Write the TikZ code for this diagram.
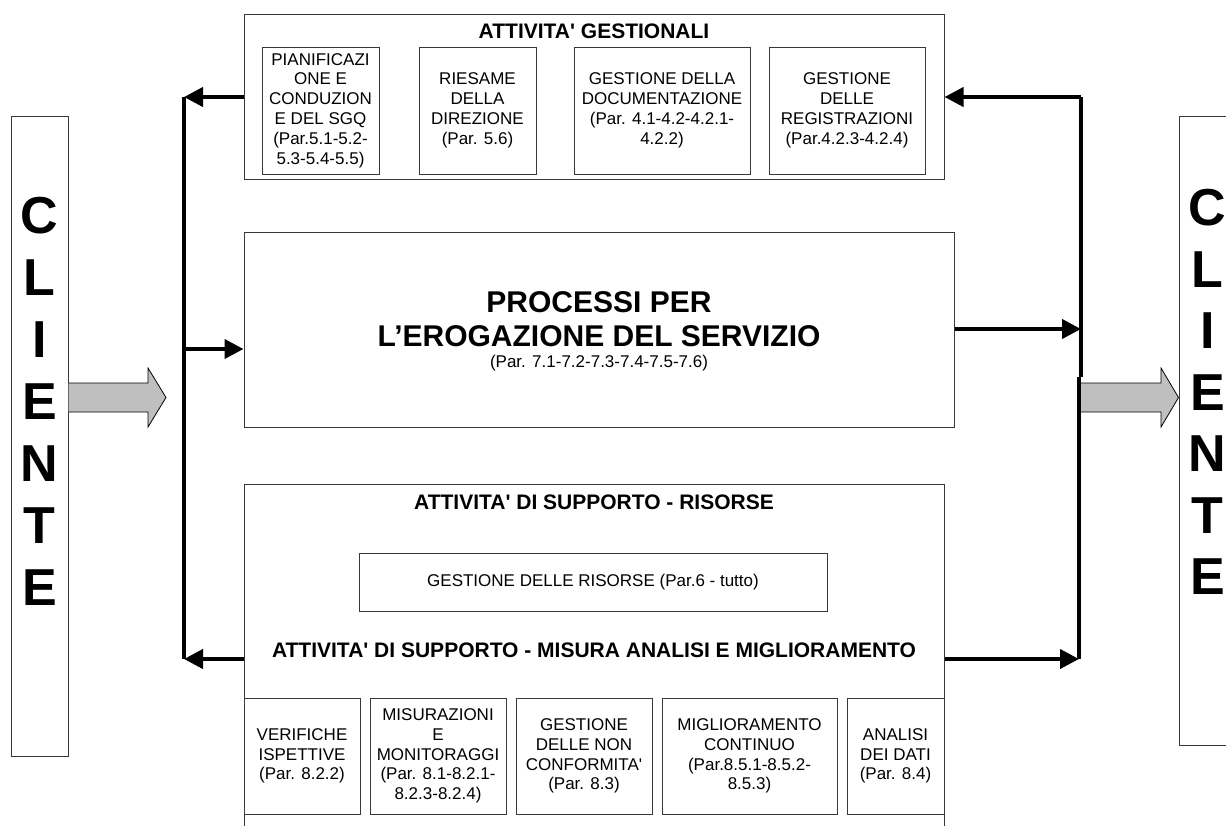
\documentclass[tikz,border=0pt]{standalone}
\usepackage{fontspec}
\newfontfamily\arial{Liberation Sans}
\usetikzlibrary{arrows.meta}
\begin{document}
\begin{tikzpicture}[x=1pt,y=-1pt,
  frame/.style={draw=black!78, line width=1pt, rectangle, inner sep=0pt},
  boxtext/.style={frame, align=center, font=\arial\fontsize{17}{19.8}\selectfont},
  title/.style={inner sep=0pt, font=\arial\bfseries\fontsize{21}{25}\selectfont},
  bigtitle/.style={inner sep=0pt, font=\arial\bfseries\fontsize{30}{36}\selectfont},
  smalltext/.style={inner sep=0pt, font=\arial\fontsize{17}{20}\selectfont},
  letter/.style={inner sep=0pt, font=\arial\bfseries\fontsize{52}{60}\selectfont},
  flow/.style={line width=4pt, black},
  flowarrow/.style={flow, -{Triangle[length=19pt,width=19pt]}},
  blockarrow/.style={draw=black, line width=0.8pt, fill=black!25, line join=miter}
]
\useasboundingbox (0,0) rectangle (1226,825);
\clip (0,0) rectangle (1226,825);

% ---- customer columns ----
\node[frame, minimum width=57pt, minimum height=640pt] (clientL) at (39.5,436) {};
\node[frame, minimum width=57pt, minimum height=629pt] (clientR) at (1207.5,430.5) {};
\foreach \ch [count=\i] in {C,L,I,E,N,T,E} {
  \node[letter] (cl\i) at (39.5,{216+62*(\i-1)}) {\ch};
  \node[letter] (cr\i) at (1207.5,{208+61.5*(\i-1)}) {\ch};
}

% ---- management activities ----
\node[frame, minimum width=700pt, minimum height=165pt] (top) at (594,96.5) {};
\node[title] (topT) at (594,31) {ATTIVITA' GESTIONALI};
\node[boxtext, minimum width=117pt, minimum height=127pt] (tb1) at (320.5,110.5)
  {PIANIFICAZI\\ONE E\\CONDUZION\\E DEL SGQ\\(Par.5.1-5.2-\\5.3-5.4-5.5)};
\node[boxtext, minimum width=117pt, minimum height=127pt] (tb2) at (477.5,110.5)
  {RIESAME\\DELLA\\DIREZIONE\\(Par. 5.6)};
\node[boxtext, minimum width=176pt, minimum height=127pt] (tb3) at (662,110.5)
  {GESTIONE DELLA\\DOCUMENTAZIONE\\(Par. 4.1-4.2-4.2.1-\\4.2.2)};
\node[boxtext, minimum width=156pt, minimum height=127pt] (tb4) at (847,110.5)
  {GESTIONE\\DELLE\\REGISTRAZIONI\\(Par.4.2.3-4.2.4)};

% ---- service delivery processes ----
\node[frame, minimum width=710pt, minimum height=195pt] (mid) at (599,329.5) {};
\node[bigtitle] (midT1) at (599,302) {PROCESSI PER};
\node[bigtitle] (midT2) at (599,336) {L’EROGAZIONE DEL SERVIZIO};
\node[smalltext] (midT3) at (599,363) {(Par. 7.1-7.2-7.3-7.4-7.5-7.6)};

% ---- support activities ----
\node[frame, minimum width=700pt, minimum height=366pt] (low) at (594,667) {};
\node[title] (lowT1) at (594,502.5) {ATTIVITA' DI SUPPORTO - RISORSE};
\node[boxtext, minimum width=468pt, minimum height=58pt] (res) at (593,582)
  {GESTIONE DELLE RISORSE (Par.6 - tutto)};
\node[title] (lowT2) at (594,650.5) {ATTIVITA' DI SUPPORTO - MISURA ANALISI E MIGLIORAMENTO};
\node[boxtext, minimum width=116pt, minimum height=116pt] (bA) at (302,756)
  {VERIFICHE\\ISPETTIVE\\(Par. 8.2.2)};
\node[boxtext, minimum width=136pt, minimum height=116pt] (bB) at (438,756)
  {MISURAZIONI\\E\\MONITORAGGI\\(Par. 8.1-8.2.1-\\8.2.3-8.2.4)};
\node[boxtext, minimum width=136pt, minimum height=116pt] (bC) at (584,756)
  {GESTIONE\\DELLE NON\\CONFORMITA'\\(Par. 8.3)};
\node[boxtext, minimum width=175pt, minimum height=116pt] (bD) at (749.5,756)
  {MIGLIORAMENTO\\CONTINUO\\(Par.8.5.1-8.5.2-\\8.5.3)};
\node[boxtext, minimum width=97pt, minimum height=116pt] (bE) at (895.5,756)
  {ANALISI\\DEI DATI\\(Par. 8.4)};

% ---- feedback bus lines ----
\coordinate (vl1) at (184,97);
\coordinate (vl2) at (184,659);
\coordinate (vr1) at (1081,97);
\coordinate (vr2) at (1081,377);
\coordinate (vr3) at (1079,377);
\coordinate (vr4) at (1079,659);
\draw[flow] (vl1) -- (vl2);
\draw[flow] (vr1) -- (vr2);
\draw[flow] (vr3) -- (vr4);

\draw[flowarrow] (top.west |- vl1) -- (vl1);
\draw[flowarrow] (vr1) -- (top.east |- vr1);
\draw[flowarrow] (vl1 |- 0,349) -- (mid.west |- 0,349);
\draw[flowarrow] (mid.east |- 0,329) -- (vr1 |- 0,329);
\draw[flowarrow] (low.west |- vl2) -- (vl2);
\draw[flowarrow] (low.east |- vr4) -- (vr4);

% ---- customer block arrows ----
\draw[blockarrow] (clientL.east |- 0,383) -- (148,383) -- (148,368) -- (166,397.5)
  -- (148,427) -- (148,412) -- (clientL.east |- 0,412);
\draw[blockarrow] (vr2 |- 0,383) -- (1161,383) -- (1161,368) -- (clientR.west |- 0,397.5)
  -- (1161,427) -- (1161,412) -- (vr2 |- 0,412);
\end{tikzpicture}
\end{document}
